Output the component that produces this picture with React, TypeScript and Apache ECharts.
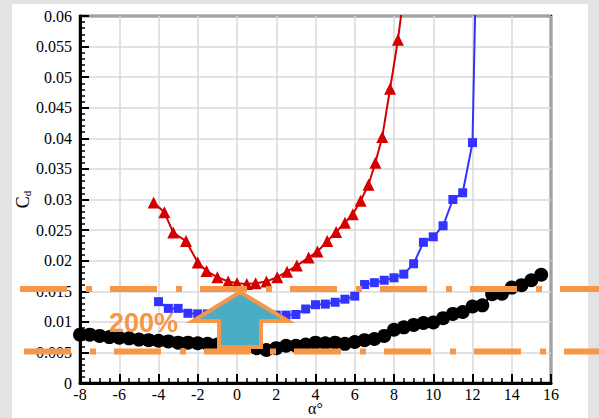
import React, { useEffect, useRef } from 'react';
import * as echarts from 'echarts';

const blackAlpha = [-8, -7.5, -7, -6.5, -6, -5.5, -5, -4.5, -4, -3.5, -3, -2.5, -2, -1.5, -1, -0.5, 0, 0.5, 1, 1.5, 2, 2.5, 3, 3.5, 4, 4.5, 5, 5.5, 6, 6.5, 7, 7.5, 8, 8.5, 9, 9.5, 10, 10.5, 11, 11.5, 12, 12.5, 13, 13.5, 14, 14.5, 15, 15.5];
const blackCd = [0.0079, 0.0079, 0.0077, 0.0075, 0.0074, 0.0073, 0.0071, 0.007, 0.0069, 0.0068, 0.0066, 0.0066, 0.0065, 0.0064, 0.0063, 0.0062, 0.0061, 0.006, 0.0057, 0.0054, 0.0057, 0.0061, 0.0061, 0.0063, 0.0066, 0.0065, 0.0066, 0.0064, 0.0067, 0.007, 0.0072, 0.0077, 0.0087, 0.0091, 0.0095, 0.0098, 0.0099, 0.0106, 0.0113, 0.0116, 0.0125, 0.0127, 0.0145, 0.0146, 0.0156, 0.016, 0.0168, 0.0177];

const blueAlpha = [-4, -3.5, -3, -2.5, -2, -1.5, -1, -0.5, 0, 0.5, 1, 1.5, 2, 2.5, 3, 3.5, 4, 4.5, 5, 5.5, 6, 6.5, 7, 7.5, 8, 8.5, 9, 9.5, 10, 10.5, 11, 11.5, 12];
const blueCd = [0.0133, 0.0122, 0.0122, 0.0114, 0.0113, 0.0113, 0.0112, 0.0111, 0.0111, 0.011, 0.011, 0.011, 0.0111, 0.0111, 0.0112, 0.0121, 0.0128, 0.0129, 0.0132, 0.0137, 0.0142, 0.0161, 0.0164, 0.0168, 0.0172, 0.0178, 0.0195, 0.023, 0.0239, 0.0257, 0.03, 0.0311, 0.0393];
const blueExit = [12.2, 0.071];

const redAlpha = [-4.25, -3.7, -3.25, -2.6, -2.0, -1.55, -1.0, -0.45, 0, 0.5, 0.95, 1.5, 2.05, 2.55, 3.05, 3.65, 4.1, 4.6, 5.05, 5.5, 5.9, 6.3, 6.7, 7.05, 7.4, 7.8, 8.2];
const redCd = [0.0295, 0.0279, 0.0246, 0.0232, 0.0197, 0.0183, 0.0173, 0.0166, 0.0163, 0.0162, 0.0163, 0.0166, 0.0173, 0.0182, 0.0192, 0.0205, 0.0215, 0.0232, 0.0247, 0.0262, 0.0276, 0.0298, 0.0324, 0.036, 0.0402, 0.0481, 0.0561];
const redExit = [8.6, 0.066];

const yTickLabels = ['0', '0.005', '0.01', '0.015', '0.02', '0.025', '0.03', '0.035', '0.04', '0.045', '0.05', '0.055', '0.06'];
const xTickLabels = ['-8', '-6', '-4', '-2', '0', '2', '4', '6', '8', '10', '12', '14', '16'];
const annotationText = '200%';

const SERIF = 'Liberation Serif';
const SANS = 'Liberation Sans';
const ORANGE = '#F79646';

export default function App() {
  const ref = useRef<HTMLDivElement>(null);
  useEffect(() => {
    if (!ref.current) return;
    const chart = echarts.init(ref.current, undefined, { renderer: 'svg' });
    const zip = (xs: number[], ys: number[]) => xs.map((x, i) => [x, ys[i]]);
    const option: any = {
      animation: false,
      backgroundColor: 'transparent',
      textStyle: { fontFamily: SERIF },
      grid: {
        left: 80, right: 48, top: 16, bottom: 35, containLabel: false, outerBoundsMode: 'none',
        show: true, borderColor: '#000', borderWidth: 2.5, backgroundColor: 'transparent',
      },
      xAxis: {
        type: 'value', min: -8, max: 16, interval: 2,
        axisLine: { show: true, onZero: false, lineStyle: { color: '#000', width: 3 } },
        axisTick: { show: true, inside: true, length: 9, lineStyle: { color: '#000', width: 2 } },
        minorTick: { show: true, splitNumber: 4, length: 5, lineStyle: { color: '#000', width: 1.5 } },
        splitLine: { show: true, lineStyle: { color: '#d9d9d9', width: 1.5 } },
        axisLabel: {
          color: '#000', fontFamily: SERIF, fontSize: 16, lineHeight: 14, margin: 4,
          formatter: (v: number) => xTickLabels[Math.round((v + 8) / 2)] ?? String(v),
        },
        name: 'α°', nameLocation: 'middle', nameGap: 18, nameMoveOverlap: false,
        nameTextStyle: { color: '#000', fontFamily: SERIF, fontSize: 16, lineHeight: 14 },
      },
      yAxis: {
        type: 'value', min: 0, max: 0.06, interval: 0.005,
        axisLine: { show: true, onZero: false, lineStyle: { color: '#000', width: 3 } },
        axisTick: { show: true, inside: true, length: 9, lineStyle: { color: '#000', width: 2 } },
        minorTick: { show: true, splitNumber: 5, length: 5, lineStyle: { color: '#000', width: 1.5 } },
        splitLine: { show: true, lineStyle: { color: '#d9d9d9', width: 1.5 } },
        axisLabel: {
          color: '#000', fontFamily: SERIF, fontSize: 16, margin: 8,
          formatter: (v: number) => yTickLabels[Math.round(v / 0.005)] ?? String(v),
        },
        name: '{c|C}{d|d}', nameLocation: 'middle', nameGap: 48, nameRotate: 90, nameMoveOverlap: false,
        nameTextStyle: {
          fontFamily: SERIF,
          rich: {
            c: { fontFamily: SERIF, fontSize: 18, color: '#000', lineHeight: 22, verticalAlign: 'bottom' },
            d: { fontFamily: SERIF, fontSize: 11, color: '#000', lineHeight: 13, verticalAlign: 'bottom' },
          },
        },
      },
      series: [
        {
          type: 'line', clip: true,
          data: [...zip(redAlpha, redCd), { value: redExit, symbol: 'none' }],
          symbol: 'triangle', symbolSize: 12, showAllSymbol: true,
          lineStyle: { color: '#d40000', width: 2 }, itemStyle: { color: '#d40000' },
        },
        {
          type: 'line', clip: true,
          data: [...zip(blueAlpha, blueCd), { value: blueExit, symbol: 'none' }],
          symbol: 'rect', symbolSize: 9, showAllSymbol: true,
          lineStyle: { color: '#3333ff', width: 2 }, itemStyle: { color: '#3333ff' },
        },
        {
          type: 'line', clip: true,
          data: zip(blackAlpha, blackCd),
          symbol: 'circle', symbolSize: 14, showAllSymbol: true,
          lineStyle: { color: '#000', width: 2 }, itemStyle: { color: '#000' },
        },
      ],
      graphic: [
        {
          type: 'line', z: 100, silent: true,
          shape: { x1: 20, y1: 289, x2: 610, y2: 289 },
          style: { stroke: ORANGE, lineWidth: 6, lineDash: [47, 19, 6, 18], lineCap: 'butt' },
        },
        {
          type: 'line', z: 100, silent: true,
          shape: { x1: 24, y1: 351.5, x2: 610, y2: 351.5 },
          style: { stroke: ORANGE, lineWidth: 6, lineDash: [47, 19, 6, 18], lineCap: 'butt' },
        },
        {
          type: 'polygon', z: 101, silent: true,
          shape: { points: [[240, 292], [288, 321], [261, 321], [261, 347], [219, 347], [219, 321], [193, 321]] },
          style: { fill: '#4BACC6', stroke: ORANGE, lineWidth: 4, lineJoin: 'miter' },
        },
        {
          type: 'text', z: 101, silent: true, x: 109, y: 323,
          style: {
            text: annotationText, fill: ORANGE, fontSize: 27, fontWeight: 'bold',
            fontFamily: SANS, verticalAlign: 'middle', align: 'left',
          },
        },
      ],
    };
    chart.setOption(option);
    return () => chart.dispose();
  }, []);

  return (
    <div style={{ position: 'fixed', left: 0, top: 0, width: 599, height: 418, background: '#e3e3e3', overflow: 'hidden' }}>
      <div style={{ position: 'absolute', left: 12, top: 4, width: 576, height: 414, background: '#fff' }} />
      <div ref={ref} style={{ position: 'absolute', left: 0, top: 0, width: 599, height: 418 }} />
    </div>
  );
}
